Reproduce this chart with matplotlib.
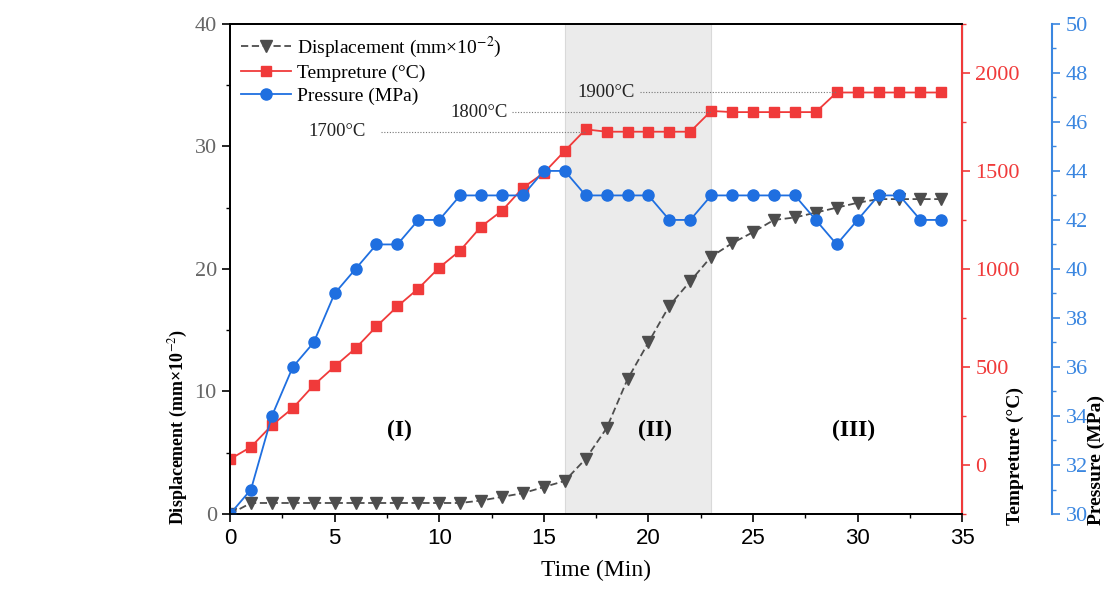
import matplotlib
matplotlib.use('Agg')
import matplotlib.pyplot as plt
from matplotlib.ticker import MultipleLocator

plt.rcParams['font.family'] = ['Liberation Serif', 'DejaVu Serif']
plt.rcParams['mathtext.fontset'] = 'stix'

# data
time = list(range(0, 35))
displacement = [0, 0.9, 0.9, 0.9, 0.9, 0.9, 0.9, 0.9, 0.9, 0.9, 0.9, 0.9,
                1.1, 1.4, 1.7, 2.2, 2.7, 4.5, 7.0, 11.0, 14.0, 17.0, 19.0,
                21.0, 22.1, 23.0, 24.0, 24.2, 24.6, 25.0, 25.4, 25.7, 25.7,
                25.7, 25.7]
temperature = [30, 92, 203, 290, 407, 503, 595, 707, 809, 900, 1007, 1094,
               1216, 1297, 1414, 1490, 1602, 1712, 1700, 1700, 1700, 1700,
               1700, 1806, 1800, 1800, 1800, 1800, 1800, 1900, 1900, 1900,
               1900, 1900, 1900]
pressure = [30, 31, 34, 36, 37, 39, 40, 41, 41, 42, 42, 43, 43, 43, 43, 44,
            44, 43, 43, 43, 43, 42, 42, 43, 43, 43, 43, 43, 42, 41, 42, 43,
            43, 42, 42]

plateaus = [1700, 1800, 1900]
plateau_start = [17, 23, 29]
plateau_line_from = [7.2, 13.5, 19.6]
plateau_text_x = [5.1, 11.9, 18.0]
stage_labels = ['(I)', '(II)', '(III)']
stage_x = [8.1, 20.3, 29.8]

c_disp = '#4d4d4d'
c_temp = '#f03a3a'
c_pres = '#1f6fe0'

fig = plt.figure(figsize=(11.06, 5.97), dpi=100)
ax = fig.add_axes([0.208, 0.139, 0.662, 0.821])
ax2 = ax.twinx()
ax3 = ax.twinx()

ax.axvspan(16, 23, facecolor='#ebebeb', edgecolor='#d9d9d9', linewidth=0.8, zorder=0)

l1, = ax.plot(time, displacement, linestyle=(0, (4, 2)), color=c_disp, linewidth=1.3,
              marker='v', markersize=8, markerfacecolor=c_disp, markeredgecolor=c_disp,
              label='Displacement (mm×10$^{-2}$)')
l2, = ax2.plot(time, temperature, '-', color=c_temp, linewidth=1.3,
               marker='s', markersize=7, label='Tempreture (°C)')
l3, = ax3.plot(time, pressure, '-', color=c_pres, linewidth=1.3,
               marker='o', markersize=8, label='Pressure (MPa)')

for t, x0, x1, tx in zip(plateaus, plateau_line_from, plateau_start, plateau_text_x):
    ax2.plot([x0, x1], [t, t], linestyle=(0, (1, 1.5)), color='#777777', linewidth=0.8)
    ax2.text(tx, t, f'{t}°C', fontsize=13.5, ha='center', va='center', color='#222222')

for s, sx in zip(stage_labels, stage_x):
    ax.text(sx, 6.8, s, fontsize=17, fontweight='bold', ha='center', va='center')

ax.set_xlim(0, 35)
ax.set_ylim(0, 40)
ax2.set_ylim(-250, 2250)
ax3.set_ylim(30, 50)

ax.xaxis.set_major_locator(MultipleLocator(5))
ax.xaxis.set_minor_locator(MultipleLocator(2.5))
ax.yaxis.set_major_locator(MultipleLocator(10))
ax.yaxis.set_minor_locator(MultipleLocator(5))
ax2.yaxis.set_major_locator(MultipleLocator(500))
ax2.yaxis.set_minor_locator(MultipleLocator(250))
ax3.yaxis.set_major_locator(MultipleLocator(2))
ax3.yaxis.set_minor_locator(MultipleLocator(1))

ax.tick_params(axis='x', which='major', length=6, width=1.2, labelsize=16, pad=4)
ax.tick_params(axis='x', which='minor', length=3, width=1.0)
for lab in ax.get_xticklabels():
    lab.set_family(['Liberation Sans Narrow', 'Liberation Sans', 'DejaVu Sans'])
ax.tick_params(axis='y', which='major', length=6, width=1.2, labelsize=16,
               labelcolor='#666666')
ax.tick_params(axis='y', which='minor', length=3, width=1.0)

ax2.spines['right'].set_color(c_temp)
ax2.spines['right'].set_linewidth(1.5)
ax2.tick_params(axis='y', which='major', colors=c_temp, length=6, width=1.2, labelsize=16)
ax2.tick_params(axis='y', which='minor', colors=c_temp, length=3, width=1.0)

ax3.spines['right'].set_position(('axes', 1.123))
ax3.spines['right'].set_color('#3a86e0')
ax3.spines['right'].set_linewidth(1.5)
ax3.tick_params(axis='y', which='major', colors='#3a86e0', length=6, width=1.2, labelsize=16)
ax3.tick_params(axis='y', which='minor', colors='#3a86e0', length=3, width=1.0)

for a in (ax, ax2, ax3):
    a.spines['top'].set_linewidth(1.2)
    a.spines['left'].set_linewidth(1.2)
    a.spines['bottom'].set_linewidth(1.2)
ax.spines['left'].set_color('#333333')

ax.set_xlabel('Time (Min)', fontsize=17, labelpad=8)
fig.text(0.161, 0.12, 'Displacement (mm×10$^{-2}$)', rotation=90, fontsize=13,
         fontweight='bold', ha='center', va='bottom')
fig.text(0.918, 0.12, 'Tempreture (°C)', rotation=90, fontsize=14,
         fontweight='bold', ha='center', va='bottom')
fig.text(0.991, 0.12, 'Pressure (MPa)', rotation=90, fontsize=14,
         fontweight='bold', ha='center', va='bottom')

ax3.legend(handles=[l1, l2, l3], loc='upper left', frameon=False, fontsize=14,
           handlelength=2.6, handletextpad=0.3, labelspacing=0.25,
           borderaxespad=0.15, bbox_to_anchor=(0.0, 1.0))

fig.savefig('out.png', dpi=100)
